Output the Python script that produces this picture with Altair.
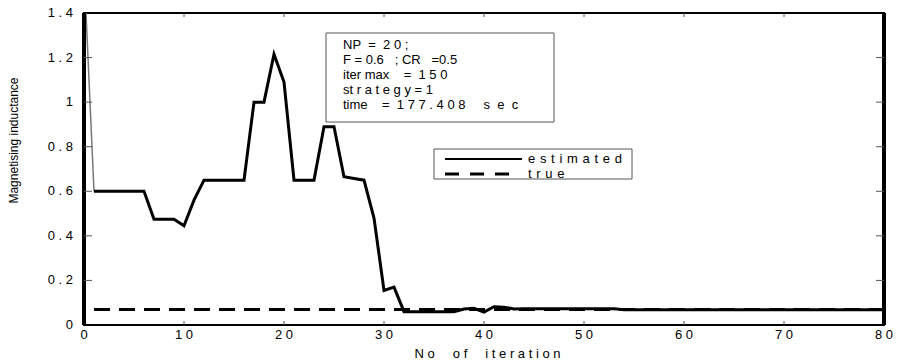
import altair as alt
import pandas as pd

# ---- data -------------------------------------------------------------
iteration = list(range(0, 81))
estimated = [
    1.6,                                   # 0 (off the top of the axis)
    0.6, 0.6, 0.6, 0.6, 0.6, 0.6,          # 1-6
    0.475, 0.475, 0.475,                   # 7-9
    0.445, 0.56,                           # 10-11
    0.65, 0.65, 0.65, 0.65, 0.65,          # 12-16
    1.0, 1.0, 1.215, 1.09,                 # 17-20
    0.65, 0.65, 0.65,                      # 21-23
    0.89, 0.89,                            # 24-25
    0.665, 0.657, 0.65, 0.48,              # 26-29
    0.155, 0.17,                           # 30-31
    0.06, 0.06, 0.06, 0.06, 0.06, 0.06,    # 32-37
    0.072, 0.075, 0.058, 0.082, 0.08, 0.072,  # 38-43
    0.073, 0.073, 0.073, 0.073, 0.073,     # 44-48
    0.073, 0.073, 0.073, 0.073, 0.073,     # 49-53
    0.068, 0.068, 0.068, 0.068, 0.068, 0.068, 0.068, 0.068, 0.068,  # 54-62
    0.068, 0.068, 0.068, 0.068, 0.068, 0.068, 0.068, 0.068, 0.068,  # 63-71
    0.068, 0.068, 0.068, 0.068, 0.068, 0.068, 0.068, 0.068, 0.068,  # 72-80
]
true_iteration = [1, 80]
true_value = [0.07, 0.07]

# axis tick positions and their (letter-spaced) labels
x_ticks = [0, 10, 20, 30, 40, 50, 60, 70, 80]
x_tick_labels = ["0", "1 0", "2 0", "3 0", "4 0", "5 0", "6 0", "7 0", "8 0"]
y_ticks = [0, 0.2, 0.4, 0.6, 0.8, 1.0, 1.2, 1.4]
y_tick_labels = ["0", "0 . 2", "0 . 4", "0 . 6", "0 . 8", "1", "1 . 2", "1 . 4"]
x_inner_ticks = [10, 20, 30, 40, 50, 60, 70]
y_inner_ticks = [0.2, 0.4, 0.6, 0.8, 1.0, 1.2]

info_lines = [
    "NP  =  2 0 ;",
    "F = 0.6   ; CR   =0.5",
    "iter max    =  1 5 0",
    "st r a t e g y = 1",
    "time    =  1 7 7 . 4 0 8     s  e  c",
]
legend_labels = ["e s t i m a t e d", "t r u e"]
x_title = "N o     o f     i t e r a t i o n"
y_title = "Magnetising inductance"

FONT = "Liberation Sans"
W, H = 800, 312
NBSP = "\u00a0"
HAIR = "\u200a"


def nb(s, wide=False):
    # keep runs of spaces in the SVG text; optionally widen letter gaps
    gap = NBSP + HAIR if wide else NBSP
    return s.replace(" ", gap)


est_df = pd.DataFrame({"iteration": iteration, "value": estimated})
true_df = pd.DataFrame({"iteration": true_iteration, "value": true_value})

x_scale = alt.Scale(domain=[0, 80], nice=False, zero=False)
y_scale = alt.Scale(domain=[0, 1.4], nice=False, zero=False)

x_axis = alt.Axis(
    values=x_ticks, ticks=False, domain=False, grid=False, labels=False,
    title=nb(x_title),
    titleFont=FONT, titleFontSize=13, titleFontWeight="normal", titleColor="black",
    titleX=W / 2 + 3, titleY=32, titleBaseline="alphabetic", titleAlign="center",
)
y_axis = alt.Axis(
    values=y_ticks, ticks=False, domain=False, grid=False, labels=False,
    title=y_title,
    titleFont=FONT, titleFontSize=12, titleFontWeight="normal", titleColor="black",
    titleX=-71, titleY=127, titleAngle=270, titleAlign="center", titleBaseline="middle",
)


def X(field, axis=None):
    return alt.X(field, scale=x_scale, axis=axis)


def Y(field, axis=None):
    return alt.Y(field, scale=y_scale, axis=axis)


# true value (dashed) -- this layer carries the axis titles
true_line = alt.Chart(true_df).mark_line(
    color="black", strokeWidth=3, strokeDash=[16, 9], clip=True
).encode(x=X("iteration:Q", x_axis), y=Y("value:Q", y_axis))

# estimated: the first step comes down from off-scale
est_first = alt.Chart(est_df).transform_filter("datum.iteration <= 1").mark_line(
    color="#777777", strokeWidth=1.5, clip=True
).encode(x=X("iteration:Q"), y=Y("value:Q"))
est_line = alt.Chart(est_df).transform_filter("datum.iteration >= 1").mark_line(
    color="black", strokeWidth=3, strokeJoin="miter", clip=True
).encode(x=X("iteration:Q"), y=Y("value:Q"))

# heavy left/right frame
frame_sides = alt.Chart(pd.DataFrame({"iteration": [0, 80]})).mark_rule(
    color="black", strokeWidth=4
).encode(x=X("iteration:Q"))

# inward tick marks on all four sides
xt_df = pd.DataFrame({"iteration": x_inner_ticks})
yt_df = pd.DataFrame({"value": y_inner_ticks})
tick_style = dict(color="#555555", strokeWidth=1)
x_ticks_bottom = alt.Chart(xt_df).mark_rule(**tick_style).encode(
    x=X("iteration:Q"), y=alt.value(H), y2=alt.value(H - 4))
x_ticks_top = alt.Chart(xt_df).mark_rule(**tick_style).encode(
    x=X("iteration:Q"), y=alt.value(0), y2=alt.value(4))
y_ticks_left = alt.Chart(yt_df).mark_rule(**tick_style).encode(
    y=Y("value:Q"), x=alt.value(0), x2=alt.value(8))
y_ticks_right = alt.Chart(yt_df).mark_rule(**tick_style).encode(
    y=Y("value:Q"), x=alt.value(W), x2=alt.value(W - 8))

# tick labels
xl_df = pd.DataFrame({"iteration": x_ticks, "lab": [nb(s) for s in x_tick_labels]})
yl_df = pd.DataFrame({"value": y_ticks, "lab": [nb(s) for s in y_tick_labels]})
x_labels = alt.Chart(xl_df).mark_text(
    align="center", baseline="middle", font=FONT, fontSize=13, color="black"
).encode(x=X("iteration:Q"), y=alt.value(H + 10), text="lab:N")
y_labels = alt.Chart(yl_df).mark_text(
    align="right", baseline="middle", font=FONT, fontSize=13, color="black"
).encode(y=Y("value:Q"), x=alt.value(-11), text="lab:N")

one = pd.DataFrame({"k": [0]})

# parameter box
info_box = alt.Chart(one).mark_rect(
    fill="white", stroke="#555555", strokeWidth=1
).encode(x=alt.value(242), x2=alt.value(470), y=alt.value(20), y2=alt.value(109))
info_text = [
    alt.Chart(one).mark_text(
        align="left", baseline="middle", font=FONT, fontSize=13, color="black"
    ).encode(x=alt.value(259), y=alt.value(32 + 15 * i), text=alt.value(nb(t)))
    for i, t in enumerate(info_lines)
]

# legend box
legend_box = alt.Chart(one).mark_rect(
    fill="white", stroke="#555555", strokeWidth=1
).encode(x=alt.value(350), x2=alt.value(548), y=alt.value(136), y2=alt.value(166))
legend_solid = alt.Chart(one).mark_rule(color="black", strokeWidth=2).encode(
    x=alt.value(361), x2=alt.value(438), y=alt.value(146))
legend_dash = alt.Chart(one).mark_rule(
    color="black", strokeWidth=3, strokeDash=[14, 11]
).encode(x=alt.value(361), x2=alt.value(426), y=alt.value(161))
legend_text = [
    alt.Chart(one).mark_text(
        align="left", baseline="middle", font=FONT, fontSize=13, color="black"
    ).encode(x=alt.value(444), y=alt.value(146 + 15 * i), text=alt.value(nb(t, wide=True)))
    for i, t in enumerate(legend_labels)
]

chart = alt.layer(
    true_line, est_first, est_line, frame_sides,
    x_ticks_bottom, x_ticks_top, y_ticks_left, y_ticks_right,
    x_labels, y_labels,
    info_box, *info_text,
    legend_box, legend_solid, legend_dash, *legend_text,
).resolve_axis(
    x="independent", y="independent"
).properties(
    width=W, height=H,
    padding={"left": 84, "top": 13, "right": 16, "bottom": 36},
    autosize=alt.AutoSizeParams(type="none"),
    background="white",
).configure_view(stroke="black", strokeWidth=2)

chart.save("out.html", embed_options={"renderer": "svg", "actions": False})
